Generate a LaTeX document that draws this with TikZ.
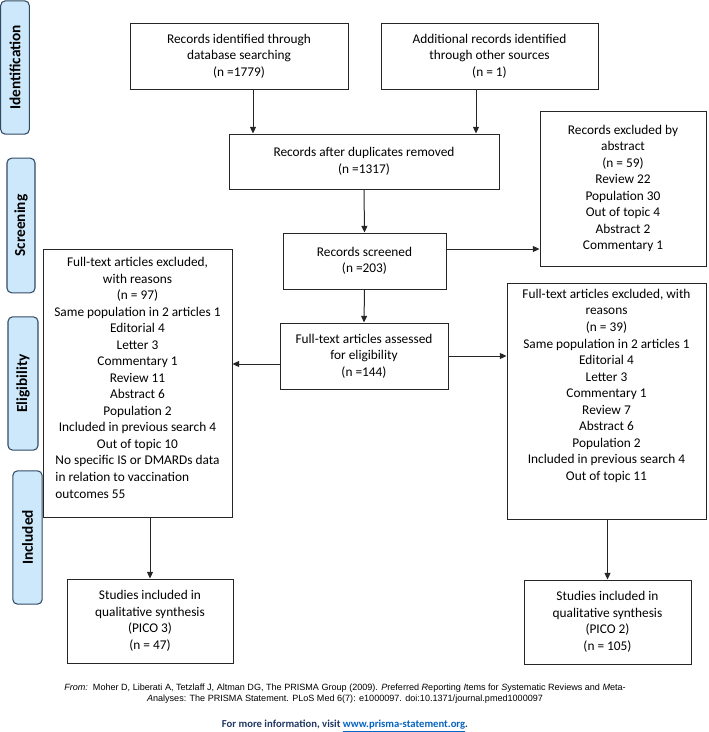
\documentclass[tikz,border=0pt]{standalone}
\usepackage{fontspec}
\setmainfont{Carlito}
\newfontfamily\arialfont{Liberation Sans}
\usetikzlibrary{arrows.meta,calc}

\definecolor{phasefill}{RGB}{205,232,251}
\definecolor{phaseline}{RGB}{50,75,100}
\definecolor{infoblue}{RGB}{31,56,100}
\definecolor{linkblue}{RGB}{5,99,193}

\tikzset{
    box/.style={draw=black!85, line width=0.75pt, align=center, inner sep=0pt,
        font=\fontsize{10}{12.4}\selectfont},
    phase/.style={rotate=90, draw=phaseline, fill=phasefill, line width=0.8pt,
        rounded corners=3.5pt, minimum width=100pt, minimum height=21.5pt,
        inner sep=0pt, font=\fontsize{11.5}{13}\selectfont\bfseries},
    arr/.style={draw=black!85, line width=0.75pt, -{Triangle[length=5pt,width=4.5pt]}}
}

\begin{document}
\begin{tikzpicture}[x=0.75pt,y=-0.75pt]
    \useasboundingbox (0,0) rectangle (708,732);

    % phases
    \node[phase, minimum width=100pt] (ident) at (15,67.5) {Identification};
    \node[phase, minimum width=101pt, minimum height=21pt] (screen) at (21,225.5) {Screening};
    \node[phase, minimum width=100pt, minimum height=22.5pt] (elig) at (23,383.5) {Eligibility};
    \node[phase, minimum width=100pt, minimum height=22pt] (incl) at (27.5,537.5) {Included};

    % boxes
    \node[box, minimum width=163.5pt, minimum height=49.5pt] (db) at (239,56)
        {Records identified through\\database searching\\(n =1779)};
    \node[box, minimum width=162.75pt, minimum height=49.5pt] (other) at (489.5,56)
        {Additional records identified\\through other sources\\(n = 1)};
    \node[box, minimum width=202.5pt, minimum height=41.25pt] (dup) at (364,161.5)
        {Records after duplicates removed\\(n =1317)};
    \node[box, minimum width=124.5pt, minimum height=116.25pt] (abs) at (623,188.5)
        {Records excluded by\\abstract\\(n = 59)\\Review 22\\Population 30\\Out of topic 4\\Abstract 2\\Commentary 1};
    \node[box, minimum width=122.25pt, minimum height=42pt] (scr) at (364.5,261)
        {Records screened\\(n =203)};
    \node[box, minimum width=126pt, minimum height=49.5pt] (ass) at (364,356)
        {Full-text articles assessed\\for eligibility\\(n =144)};
    \node[box, minimum width=141.75pt, minimum height=201pt] (exl) at (137.5,383.5)
        {Full-text articles excluded,\\with reasons\\(n = 97)\\Same population in 2 articles 1\\Editorial 4\\Letter 3\\Commentary 1\\Review 11\\Abstract 6\\Population 2\\Included in previous search 4\\Out of topic 10\\
        \begin{tabular}[t]{@{}l@{}}No specific IS or DMARDs data\\in relation to vaccination\\outcomes 55\end{tabular}\\[4pt]};
    \node[box, minimum width=149.25pt, minimum height=177pt] (exr) at (606.5,401)
        {Full-text articles excluded, with\\reasons\\(n = 39)\\Same population in 2 articles 1\\Editorial 4\\Letter 3\\Commentary 1\\Review 7\\Abstract 6\\Population 2\\Included in previous search 4\\Out of topic 11\\[12pt]};
    \node[box, minimum width=124.5pt, minimum height=63pt] (inl) at (150,621)
        {Studies included in\\qualitative synthesis\\(PICO 3)\\(n = 47)};
    \node[box, minimum width=125.25pt, minimum height=63pt] (inr) at (607.5,622)
        {Studies included in\\qualitative synthesis\\(PICO 2)\\(n = 105)};

    % footer
    \node[align=center, inner sep=0pt, font=\arialfont\fontsize{6.8}{8.3}\selectfont] (src) at (345,693.5)
        {\textit{From:}\ \ Moher D, Liberati A, Tetzlaff J, Altman DG, The PRISMA Group (2009). \textit{P}referred \textit{R}eporting \textit{I}tems for \textit{S}ystematic Reviews and \textit{M}eta-\\\textit{A}nalyses: The PRISMA Statement. PLoS Med 6(7): e1000097. doi:10.1371/journal.pmed1000097};
    \node[inner sep=0pt, text=infoblue, font=\fontsize{8}{9.6}\selectfont\bfseries] (info) at (345,726)
        {For more information, visit \textcolor{linkblue}{\underline{www.prisma-statement.org}}.};

    % connectors
    \coordinate (dbout) at ($(db.south)+(14,0)$);
    \coordinate (otherout) at ($(other.south)+(-13.5,0)$);
    \coordinate (scrout) at ($(scr.east)+(0,-12)$);
    \coordinate (assout) at ($(ass.west)+(0,8)$);
    \draw[arr] (dbout) -- (dbout |- dup.north);
    \draw[arr] (otherout) -- (otherout |- dup.north);
    \draw[arr] (dup.south) -- (scr.north);
    \draw[arr] (scr.south) -- (ass.north);
    \draw[arr] (scrout) -- (scrout -| abs.west);
    \draw[arr] (assout) -- (assout -| exl.east);
    \draw[arr] (ass.east) -- (ass.east -| exr.west);
    \draw[arr] (inl.north |- exl.south) -- (inl.north);
    \draw[arr] (inr.north |- exr.south) -- (inr.north);
\end{tikzpicture}
\end{document}
